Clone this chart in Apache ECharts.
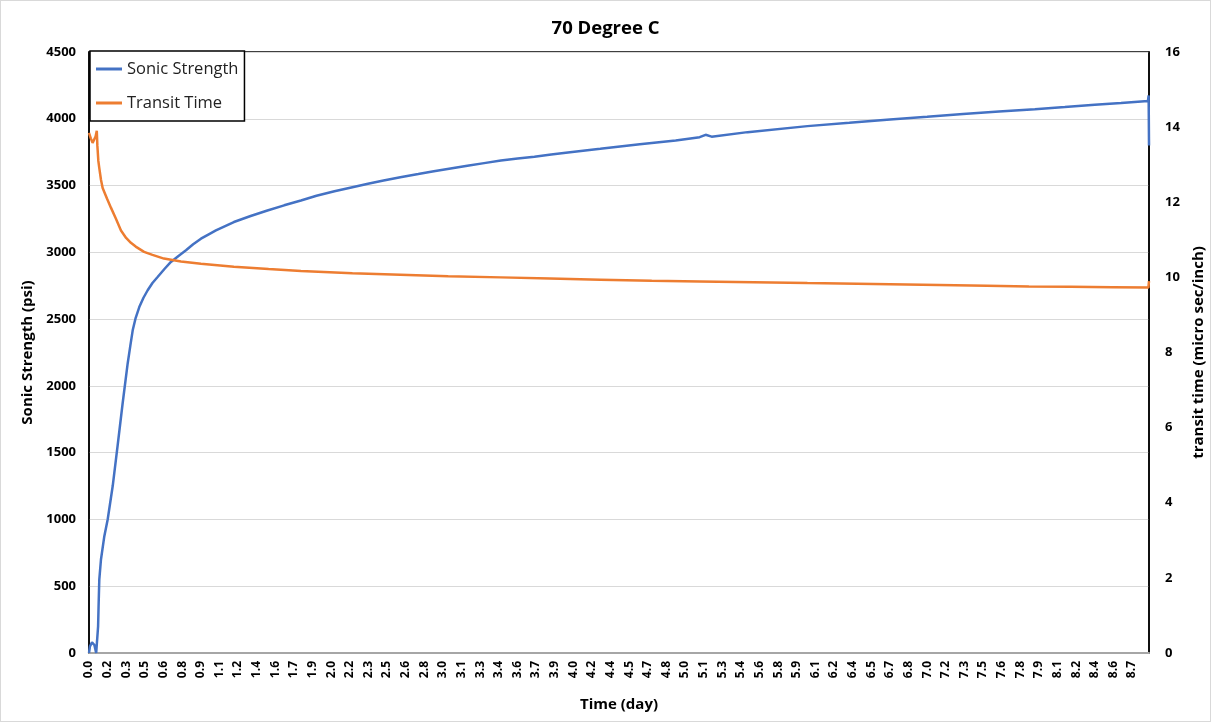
<!DOCTYPE html>
<html>
<head>
<meta charset="utf-8">
<script src="https://cdn.jsdelivr.net/npm/echarts@6/dist/echarts.min.js"></script>
<style>
html,body{margin:0;padding:0;background:#fff;}
#chart{width:1211px;height:722px;box-sizing:border-box;border:1px solid #d9d9d9;}
</style>
</head>
<body>
<div id="chart"></div>
<script>
// Time (day) and values
const strengthTime = [0,0.008,0.025,0.045,0.06,0.072,0.076,0.08,0.086,0.1,0.128,0.156,0.198,0.24,0.281,0.323,0.345,0.365,0.39,0.42,0.455,0.49,0.53,0.573,0.63,0.684,0.75,0.81,0.87,0.935,1.0,1.06,1.21,1.35,1.49,1.63,1.77,1.9,2.05,2.2,2.33,2.46,2.6,2.75,2.88,3.02,3.16,3.3,3.44,3.58,3.72,3.86,4.0,4.27,4.6,4.9,5.1,5.15,5.2,5.5,6.0,6.35,6.69,7.0,7.3,7.6,7.9,8.15,8.4,8.62,8.844,8.85,8.853];
const strength = [0,50,80,60,0,0,200,350,550,700,875,1000,1250,1560,1870,2168,2300,2416,2510,2590,2660,2716,2770,2815,2875,2928,2975,3015,3060,3102,3135,3164,3227,3272,3313,3352,3388,3424,3458,3488,3513,3538,3562,3586,3607,3628,3649,3668,3687,3702,3716,3732,3748,3775,3810,3838,3862,3880,3866,3900,3945,3970,3995,4015,4035,4054,4072,4088,4105,4119,4134,4175,3800];

const transitTime = [0,0.015,0.03,0.045,0.055,0.065,0.07,0.078,0.086,0.1,0.114,0.15,0.184,0.225,0.267,0.31,0.35,0.39,0.46,0.53,0.626,0.768,0.935,1.21,1.5,1.77,2.2,2.6,3.0,3.44,3.85,4.27,4.7,5.1,5.55,6.0,6.69,7.1,7.5,7.85,8.2,8.55,8.848,8.853];
const transit = [13.85,13.7,13.58,13.6,13.75,13.9,13.5,13.1,12.91,12.6,12.38,12.1,11.85,11.56,11.25,11.05,10.92,10.82,10.68,10.6,10.5,10.42,10.36,10.28,10.22,10.17,10.11,10.07,10.03,10.0,9.97,9.94,9.91,9.89,9.87,9.85,9.82,9.8,9.78,9.76,9.75,9.74,9.73,9.9];

const leftTicks = {min:0, max:4500, interval:500};
const rightTicks = {min:0, max:16, interval:2};
const xTicks = {min:0, max:8.853, interval:224/1440};

const chart = echarts.init(document.getElementById('chart'));
const font = "'Open Sans', 'Liberation Sans', sans-serif";
chart.setOption({
  animation:false,
  textStyle:{fontFamily:font},
  title:{text:'70 Degree C', left:'center', top:13,
    textStyle:{fontSize:18.5, fontWeight:'bold', color:'#000', fontFamily:font}},
  legend:{
    orient:'vertical', left:89, top:50,
    padding:[7,6,7,6], itemGap:12, itemWidth:26, itemHeight:3, icon:'rect',
    borderColor:'#000', borderWidth:1.5, backgroundColor:'#fff',
    textStyle:{fontSize:16.5, color:'#222', lineHeight:22, fontFamily:font},
    data:['Sonic Strength','Transit Time']
  },
  grid:{left:88, right:61, top:51, bottom:68, show:true, borderColor:'#000', borderWidth:1.5, outerBoundsMode:'none'},
  xAxis:{
    type:'value', min:xTicks.min, max:xTicks.max, interval:xTicks.interval,
    name:'Time (day)', nameLocation:'middle', nameGap:44,
    nameTextStyle:{fontSize:15, fontWeight:'bold', color:'#000'},
    axisLine:{show:true, lineStyle:{color:'#a6a6a6', width:2}},
    axisTick:{show:false}, splitLine:{show:false},
    axisLabel:{rotate:90, fontSize:12, fontWeight:'bold', color:'#000', margin:8, showMaxLabel:false,
      formatter:v=>v.toFixed(1)}
  },
  yAxis:[{
    type:'value', position:'left', min:leftTicks.min, max:leftTicks.max, interval:leftTicks.interval,
    name:'Sonic Strength (psi)', nameLocation:'middle', nameGap:50, nameRotate:90,
    nameTextStyle:{fontSize:15, fontWeight:'bold', color:'#000'},
    axisLine:{show:true, lineStyle:{color:'#000', width:1.5}},
    axisTick:{show:false},
    splitLine:{show:true, lineStyle:{color:'#d9d9d9', width:1}},
    axisLabel:{fontSize:13, fontWeight:'bold', color:'#000', margin:13, formatter:v=>String(v)}
  },{
    type:'value', position:'right', min:rightTicks.min, max:rightTicks.max, interval:rightTicks.interval,
    name:'transit time (micro sec/inch)', nameLocation:'middle', nameGap:40, nameRotate:90,
    nameTextStyle:{fontSize:15, fontWeight:'bold', color:'#000'},
    axisLine:{show:true, lineStyle:{color:'#000', width:1.5}},
    axisTick:{show:false}, splitLine:{show:false},
    axisLabel:{fontSize:13, fontWeight:'bold', color:'#000', margin:16}
  }],
  series:[{
    name:'Sonic Strength', type:'line', yAxisIndex:0, showSymbol:false, symbol:'none',
    smooth:false,
    lineStyle:{color:'#4472C4', width:2.5}, itemStyle:{color:'#4472C4'},
    data:strengthTime.map((t,i)=>[t,strength[i]])
  },{
    name:'Transit Time', type:'line', yAxisIndex:1, showSymbol:false, symbol:'none',
    smooth:false,
    lineStyle:{color:'#ED7D31', width:2.5}, itemStyle:{color:'#ED7D31'},
    data:transitTime.map((t,i)=>[t,transit[i]])
  }]
});
</script>
</body>
</html>
